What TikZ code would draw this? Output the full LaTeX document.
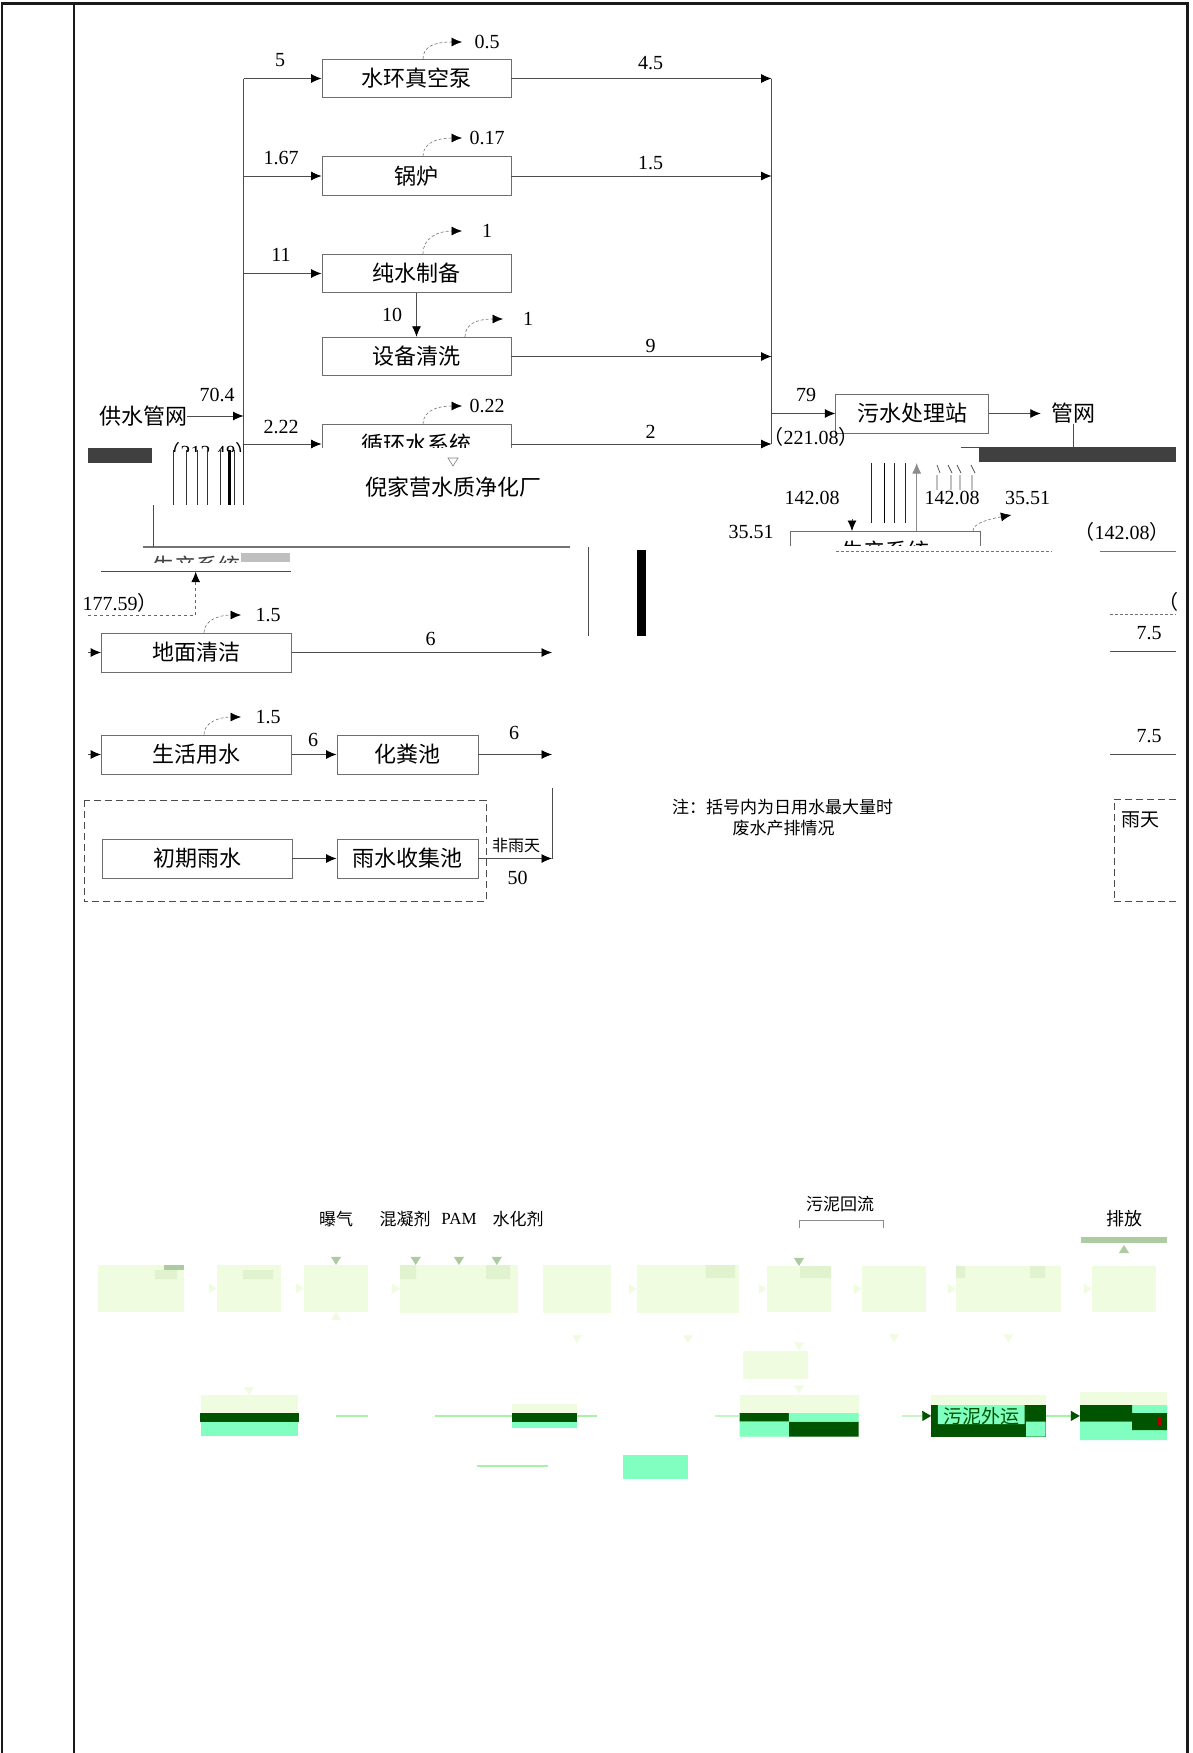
\documentclass[tikz,border=0pt]{standalone}
\usepackage{fontspec}
\setmainfont{Liberation Serif}
\newfontfamily\cjk{Noto Sans CJK SC}
\usetikzlibrary{arrows.meta}

\definecolor{edge}{HTML}{6E6E6E}
\definecolor{pale}{HTML}{EFFCE0}
\definecolor{palemark}{HTML}{E0F2CE}
\definecolor{sage}{HTML}{ADCBA0}
\definecolor{deepgreen}{HTML}{005400}
\definecolor{aqua}{HTML}{80FFC0}
\definecolor{mint}{HTML}{A6F2A6}
\definecolor{smear}{HTML}{404040}

\begin{document}
\begin{tikzpicture}[x=1pt,y=-1pt,>={Latex[length=10.5pt,width=9pt,black]},
  box/.style={rectangle,draw=edge,line width=0.9pt,inner sep=0pt,minimum width=189pt,minimum height=38.5pt,font=\cjk\fontsize{22}{24}\selectfont},
  word/.style={inner sep=0pt,font=\cjk\fontsize{22}{24}\selectfont},
  num/.style={inner sep=0pt,font=\fontsize{20}{22}\selectfont},
  small/.style={inner sep=0pt,font=\cjk\fontsize{17}{19}\selectfont},
  flow/.style={line width=0.8pt,draw=black!70},
  loss/.style={densely dashed,line width=0.6pt,draw=black!55,->},
  pbox/.style={rectangle,fill=pale,inner sep=0pt},
  ghost/.style={draw=white,-{Triangle[length=8pt,width=10pt,color=pale]}},
  sagetip/.style={draw=white,-{Triangle[length=8pt,width=10pt,color=sage]}},
  mintline/.style={draw=mint,line width=1.2pt},
  cut/.style={dashed,dash pattern=on 7pt off 4pt,line width=1pt,draw=black!70}]
\useasboundingbox (0,0) rectangle (1192,1753);
\draw[line width=2.4pt,black!90] (2,1753) -- (2,3.5) -- (1187.5,3.5) -- (1187.5,1753);
\draw[line width=1.4pt,black!90] (73.8,3.5) -- (73.8,1753);

% water balance, upper part
\node (vac)  at (416.5,78.5)  [box] {水环真空泵};
\node (boil) at (416.5,176)   [box] {锅炉};
\node (pure) at (416.5,273.5) [box] {纯水制备};
\node (wash) at (416.5,356.5) [box] {设备清洗};
\begin{scope}
\clip (300,400) rectangle (530,447.5);
\node (cool) at (416.5,444) [box] {循环水系统};
\end{scope}
\node (sup) at (143,416) [word] {供水管网};
\coordinate (tap1) at (243.5,78.5);
\coordinate (tap2) at (243.5,176);
\coordinate (tap3) at (243.5,273.5);
\coordinate (tap5) at (243.5,444);
\coordinate (tapin) at (243.5,416);
\draw[flow] (tap1) -- (tap5);
\draw[flow,->] (sup) -- (tapin);
\draw[flow,->] (tap1) -- (vac);
\draw[flow,->] (tap2) -- (boil);
\draw[flow,->] (tap3) -- (pure);
\draw[flow,->] (tap5) -- (cool);
\draw[flow,->] (pure) -- (wash);
\node (q70) at (217,395) [num] {70.4};
\node (q5)  at (280,60)  [num] {5};
\node (q167) at (281,158) [num] {1.67};
\node (q11) at (281,255) [num] {11};
\node (q222) at (281,427) [num] {2.22};
\node (q10) at (392,315) [num] {10};

\coordinate (drain1) at (771.6,78.5);
\coordinate (drain2) at (771.6,176);
\coordinate (drain4) at (771.6,356.5);
\coordinate (drain5) at (771.6,444);
\coordinate (drainout) at (771.6,413.5);
\draw[flow] (drain1) -- (drain5);
\draw[flow,->] (vac) -- (drain1);
\draw[flow,->] (boil) -- (drain2);
\draw[flow,->] (wash) -- (drain4);
\draw[flow,->] (cool) -- (drain5);
\node (q45) at (650.7,63)  [num] {4.5};
\node (q15) at (650.7,163) [num] {1.5};
\node (q9)  at (650.7,346) [num] {9};
\node (q2)  at (650.7,432) [num] {2};

\coordinate (vacvent) at (462,42);
\coordinate (boilvent) at (462,138);
\coordinate (purevent) at (462,231);
\coordinate (washvent) at (503,319);
\coordinate (coolvent) at (462,406);
\draw[loss] ([xshift=6.5pt]vac.north) .. controls +(0,-14) and +(-24,0) .. (vacvent);
\draw[loss] ([xshift=6.5pt]boil.north) .. controls +(0,-14) and +(-24,0) .. (boilvent);
\draw[loss] ([xshift=6.5pt]pure.north) .. controls +(0,-16) and +(-24,0) .. (purevent);
\draw[loss] ([xshift=48.5pt]wash.north) .. controls +(0,-14) and +(-24,0) .. (washvent);
\draw[loss] ([xshift=6.5pt]cool.north) .. controls +(0,-14) and +(-24,0) .. (coolvent);
\node (vacloss)  at (487,42)  [num] {0.5};
\node (boilloss) at (487,138) [num] {0.17};
\node (pureloss) at (487,231) [num] {1};
\node (washloss) at (528,319) [num] {1};
\node (coolloss) at (487,406) [num] {0.22};

\node (sew) at (912,413.5) [box,minimum width=152.5pt,minimum height=39pt] {污水处理站};
\node (net) at (1073,413.5) [word,inner xsep=10pt] {管网};
\coordinate (netfoot) at (1073,447);
\draw[flow,->] (drainout) -- (sew);
\draw[flow,->] (sew) -- (net);
\draw[flow] (net) -- (netfoot);
\node (q79) at (806,395) [num] {79};
\node (qmax1) at (811,437) [num] {{\cjk （}221.08{\cjk ）}};

% smeared band
\fill[smear] (979,447) rectangle (1176,462);
\fill[smear] (88,448) rectangle (152,463);
\draw[flow] (961,447) -- (979,447);
\begin{scope}
\clip (160,438) rectangle (260,451);
\node (qmax2) at (208,452) [num] {{\cjk （}212.48{\cjk ）}};
\end{scope}
\draw[black!80,line width=0.9pt] (173,450) -- (173,505) (186.4,450) -- (186.4,505) (197.9,450) -- (197.9,505)
  (207.8,450) -- (207.8,505) (220.8,450) -- (220.8,505) (234.2,450) -- (234.2,505) (243.5,444) -- (243.5,505);
\draw[black,line width=2.6pt] (229.6,450) -- (229.6,505);
\draw[black!50,line width=0.6pt] (448,458) -- (458,458) -- (453,466) -- cycle;
\node (plant) at (453.6,487) [word] {倪家营水质净化厂};

\draw[black!85,line width=0.9pt] (871.6,463) -- (871.6,522.7) (894.5,463) -- (894.5,522.7) (905.8,463) -- (905.8,522.7);
\draw[black,line width=1.6pt] (884.5,463) -- (884.5,522.7);
\draw[black!70,line width=0.7pt] (937,465) -- (940,473) (948,465) -- (952,473) (957,465) -- (961,473) (971,465) -- (975,473)
  (937,475) -- (937,490) (951,475) -- (951,490) (960,475) -- (960,490) (972,475) -- (972,490);
\begin{scope}
\clip (780,520) rectangle (990,545);
\node (prod) at (885.5,550.7) [box,minimum width=190pt] {生产系统};
\end{scope}
\coordinate (backtop) at (916.7,463);
\coordinate (downtop) at (852,519);
\coordinate (prodvent) at (1011.4,515);
\draw[flow,draw=black!45,-{Latex[length=10.5pt,width=9pt,black!45]}] (prod.north -| backtop) -- (backtop);
\draw[flow,->] (downtop) -- (downtop |- prod.north);
\draw[loss] ([xshift=87.5pt]prod.north) .. controls +(0,-8) and +(-22,4) .. (prodvent);
\node (q142a) at (812,498)  [num] {142.08};
\node (q142b) at (952,498)  [num] {142.08};
\node (q355a) at (1027.6,498) [num] {35.51};
\node (q355b) at (751,531.7)  [num] {35.51};
\node (qmax3) at (1122,531.7) [num] {{\cjk （}142.08{\cjk ）}};
\draw[densely dashed,black!55,line width=0.7pt] (836,551.7) -- (1052,551.7);
\draw[black!55,line width=0.7pt] (1100,551.7) -- (1176,551.7);

% water balance, lower part
\draw[black!55,line width=1.6pt] (143,546.7) -- (570,546.7);
\draw[flow] (153,505) -- (153,546.7);
\begin{scope}
\clip (145,550) rectangle (242,562);
\node (prodcopy) at (196,566) [word,text=black!75] {生产系统};
\end{scope}
\fill[black!25] (241,553) rectangle (290,562);
\draw[flow] (588,546.7) -- (588,635.7);
\fill[black] (637,550) rectangle (645.5,635.7);
\draw[flow] (101,571.7) -- (291,571.7);
\coordinate (recyc) at (195.7,571.7);
\coordinate (recycfoot) at (195.7,615);
\coordinate (recycleft) at (88,615);
\draw[dashed,black!60,line width=0.7pt,->] (recycleft) -- (recycfoot) -- (recyc);
\node (qmax4) at (120,602.7) [num] {177.59{\cjk ）}};

\node (floor)  at (196.3,652.5) [box,minimum width=189.5pt,minimum height=39pt] {地面清洁};
\node (life)   at (196.3,754.5) [box,minimum width=189.5pt,minimum height=39pt] {生活用水};
\node (septic) at (407.5,754.5) [box,minimum width=141pt,minimum height=39pt] {化粪池};
\node (rain0)  at (197,858.5)   [box,minimum width=190pt,minimum height=39pt] {初期雨水};
\node (pool)   at (407.5,858.5) [box,minimum width=141pt,minimum height=39pt] {雨水收集池};
\coordinate (floorin) at (88,652.5);
\coordinate (lifein) at (88,754.5);
\coordinate (floorout) at (552,652.5);
\coordinate (septout) at (552,754.5);
\coordinate (poolout) at (552,858.5);
\coordinate (riser) at (552,788);
\draw[flow,->] (floorin) -- (floor);
\draw[flow,->] (lifein) -- (life);
\draw[flow,->] (floor) -- (floorout);
\draw[flow,->] (life) -- (septic);
\draw[flow,->] (septic) -- (septout);
\draw[flow,->] (rain0) -- (pool);
\draw[flow,->] (pool) -- (poolout);
\draw[flow] (riser) -- (poolout);
\coordinate (floorvent) at (241,615);
\coordinate (lifevent) at (241,717);
\draw[loss] ([xshift=7.7pt]floor.north) .. controls +(0,-12) and +(-22,0) .. (floorvent);
\draw[loss] ([xshift=7.7pt]life.north) .. controls +(0,-12) and +(-22,0) .. (lifevent);
\node (floorloss) at (268,615) [num] {1.5};
\node (lifeloss)  at (268,717) [num] {1.5};
\node (q6a) at (430.7,639) [num] {6};
\node (q6b) at (313,740)   [num] {6};
\node (q6c) at (514,732.7) [num] {6};
\node (dry) at (516,845) [small,font=\cjk\fontsize{16}{18}\selectfont] {非雨天};
\node (q50) at (517.5,878) [num] {50};
\draw[cut] (84,800) rectangle (486,901.7);

\node (paren) at (1168.6,601.7) [num] {\cjk （};
\draw[densely dashed,black!55,line width=0.7pt] (1110,614) -- (1176,614);
\node (q75a) at (1149,633) [num] {7.5};
\draw[flow] (1110,651.7) -- (1176,651.7);
\node (q75b) at (1149,736) [num] {7.5};
\draw[flow] (1110,754) -- (1176,754);
\draw[cut] (1176,799) -- (1114,799) -- (1114,901.7) -- (1176,901.7);
\node (wet) at (1140.5,820) [word,font=\cjk\fontsize{19}{21}\selectfont] {雨天};
\node (note1) at (782.7,806.7) [small] {注：括号内为日用水最大量时};
\node (note2) at (783.6,828.3) [small] {废水产排情况};

% treatment process
\node (aer)  at (336,1219) [small] {曝气};
\node (coag) at (405,1219) [small] {混凝剂};
\node (pam)  at (459,1219) [inner sep=0pt,font=\fontsize{17}{19}\selectfont] {PAM};
\node (hyd)  at (518,1219) [small] {水化剂};
\node (ret)  at (840,1204) [small] {污泥回流};
\node (out)  at (1124,1219) [small,font=\cjk\fontsize{18}{20}\selectfont] {排放};
\draw[black!45,line width=0.8pt] (799,1228) -- (799,1220) -- (883,1220) -- (883,1228);
\fill[sage] (1080.6,1236.7) rectangle (1167,1243.3);

\node (b1)  at (140.8,1288.4) [pbox,minimum width=85.7pt,minimum height=46.7pt] {};
\node (b2)  at (249,1288.4)   [pbox,minimum width=64pt,minimum height=46.7pt] {};
\node (b3)  at (336,1288.4)   [pbox,minimum width=64pt,minimum height=46.7pt] {};
\node (b4)  at (459,1289)     [pbox,minimum width=118pt,minimum height=47.7pt] {};
\node (b5)  at (577,1289)     [pbox,minimum width=68pt,minimum height=47.7pt] {};
\node (b6)  at (688,1289)     [pbox,minimum width=102pt,minimum height=47.7pt] {};
\node (b7)  at (799,1289)     [pbox,minimum width=64pt,minimum height=45.7pt] {};
\node (b8)  at (894,1289)     [pbox,minimum width=64pt,minimum height=45.7pt] {};
\node (b9)  at (1008.3,1289)  [pbox,minimum width=104.5pt,minimum height=45.7pt] {};
\node (b10) at (1124,1289)    [pbox,minimum width=64pt,minimum height=45.7pt] {};
\node (b11) at (775.2,1365)   [pbox,minimum width=65pt,minimum height=28.6pt] {};
\fill[palemark] (155,1270) rectangle (177,1279) (243,1270) rectangle (273,1279) (400,1265) rectangle (416,1279)
  (486,1265) rectangle (510,1279) (705.7,1265) rectangle (735,1278) (800,1266) rectangle (831,1278)
  (956,1266) rectangle (965,1278) (1030,1266) rectangle (1045,1278);
\fill[sage] (164,1265) rectangle (183.6,1270);

\coordinate (outbar) at (1124,1245);
\draw[sagetip] (aer) -- (aer |- b3.north);
\draw[sagetip] ([xshift=10.7pt]coag.south) -- ([xshift=10.7pt]coag.south |- b4.north);
\draw[sagetip] (pam) -- (pam |- b4.north);
\draw[sagetip] ([xshift=-21.2pt]hyd.south) -- ([xshift=-21.2pt]hyd.south |- b4.north);
\draw[sagetip] (799,1228) -- (b7.north);
\draw[sagetip] (b10.north) -- (outbar);
\draw[ghost] (b1) -- (b2);
\draw[ghost] (b2) -- (b3);
\draw[ghost] (b3) -- (b4);
\draw[ghost] (b5) -- (b6);
\draw[ghost] (b6) -- (b7);
\draw[ghost] (b7) -- (b8);
\draw[ghost] (b8) -- (b9);
\draw[ghost] (b9) -- (b10);
\draw[ghost] ([yshift=-24pt]b3.south) -- (b3.south);
\draw[ghost] (b5.south) -- ++(0,30);
\draw[ghost] (b6.south) -- ++(0,30);
\draw[ghost] (b7.south) -- (b11.north -| b7.south);
\draw[ghost] (b8.south) -- ++(0,30);
\draw[ghost] (b9.south) -- ++(0,30);
\draw[ghost] (b11.south -| b7.south) -- ++(0,14);
\draw[ghost] (249,1370) -- (249,1395);

\node (g1) at (249.5,1415.5) [pbox,minimum width=97pt,minimum height=41pt] {};
\node (g2) at (544.5,1416)   [pbox,minimum width=65pt,minimum height=24pt] {};
\node (g3) at (799.2,1415.9) [pbox,minimum width=118.9pt,minimum height=41.7pt] {};
\node (g4) at (988.5,1415.9) [pbox,minimum width=114.1pt,minimum height=41.7pt] {};
\node (g5) at (1123.5,1415.9) [pbox,minimum width=87pt,minimum height=48.3pt] {};
\fill[deepgreen] (200,1413.3) rectangle (298.6,1421.7);
\fill[aqua] (201,1421.7) rectangle (298,1436);
\fill[deepgreen] (512,1413) rectangle (577,1422);
\fill[aqua] (512,1422) rectangle (577,1428);
\fill[deepgreen] (739.7,1413) rectangle (788.8,1421.7) (788.8,1421.7) rectangle (858.6,1436.7);
\fill[aqua] (788.8,1413) rectangle (858.6,1421.7) (739.7,1421.7) rectangle (788.8,1436.7);
\fill[deepgreen] (931.4,1405) rectangle (1045.5,1436.7);
\fill[aqua] (937.8,1405) rectangle (1024.6,1424) (1026,1421.7) rectangle (1045.5,1436.7);
\node (haul) at (981,1416) [small,font=\cjk\fontsize{19}{21}\selectfont,text=deepgreen] {污泥外运};
\fill[aqua] (1080,1421.7) rectangle (1167,1440) (1132,1405) rectangle (1167,1413);
\fill[deepgreen] (1080,1405) rectangle (1132,1421.7) (1132,1413) rectangle (1167,1430);
\fill[red!70!black] (1158,1417) rectangle (1162,1425);
\fill[aqua] (623.4,1455) rectangle (688,1479);
\draw[mintline] (336,1416) -- (368,1416);
\draw[mintline] (435,1416) -- (g2.west);
\draw[mintline] (g2.east) -- ++(20,0);
\draw[mintline] (715,1416) -- (g3.west);
\draw[mintline] (477,1466) -- (548,1466);
\draw[mintline,-{Triangle[length=9pt,width=10pt,color=deepgreen]}] (902,1416) -- (g4.west);
\draw[mintline,-{Triangle[length=9pt,width=10pt,color=deepgreen]}] (g4.east) -- (g5.west);
\end{tikzpicture}
\end{document}
